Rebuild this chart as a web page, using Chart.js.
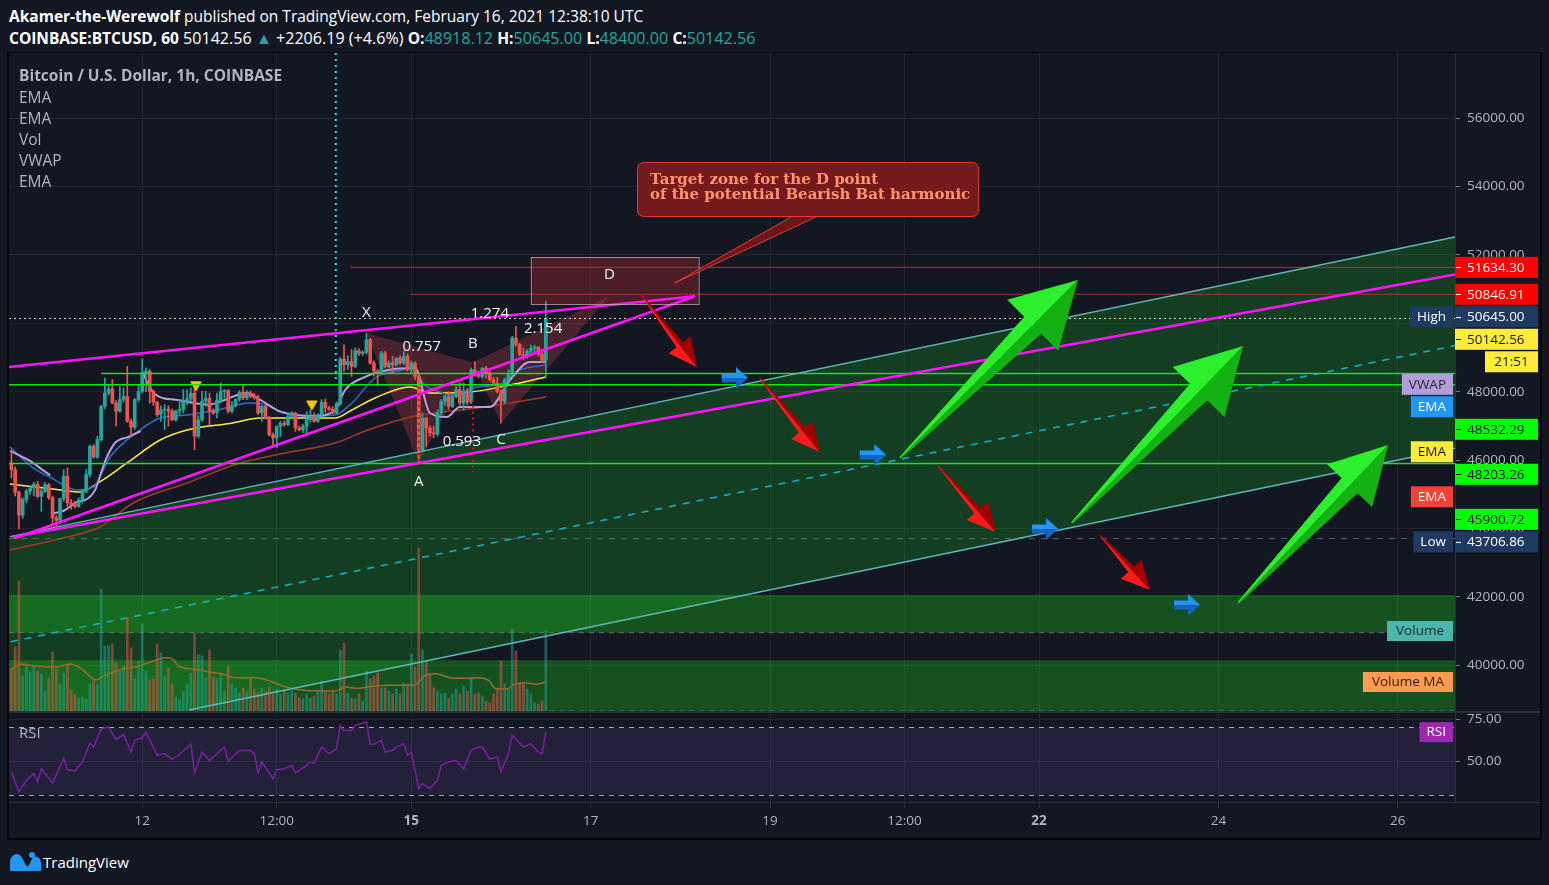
<!DOCTYPE html>
<html>
<head>
<meta charset="utf-8">
<title>BTCUSD 1h</title>
<script src="https://cdn.jsdelivr.net/npm/chart.js@4.4.1/dist/chart.umd.min.js"></script>
<style>
  html, body { margin:0; padding:0; background:#131722; }
  body { width:1549px; height:885px; position:relative; overflow:hidden; font-family:"Open Sans", sans-serif; }
  .hdr { position:absolute; left:9px; color:#ffffff; font-size:15.5px; white-space:nowrap; line-height:20px; }
  .hdr b { font-size:15.5px; }
  .big { font-size:16.1px; }
  .teal { color:#26a69a; }
  canvas { position:absolute; display:block; }
  .lg { position:absolute; left:19px; color:#b2b5be; font-size:15.5px; line-height:21px; white-space:nowrap; z-index:5; }
  .ln { position:absolute; background:#2a2e39; z-index:4; }
  .bd { position:absolute; background:#05070b; z-index:4; }
  #logo { position:absolute; left:8px; top:851px; height:22px; display:flex; align-items:center; color:#ffffff; font-size:15px; }
</style>
</head>
<body>
<div class="hdr" style="top:6px"><b>Akamer-the-Werewolf</b> published on TradingView.com, February 16, 2021 12:38:10 UTC</div>
<div class="hdr" style="top:28px"><b>COINBASE:BTCUSD, 60</b><span class="big"> 50142.56 <span class="teal">▲</span> +2206.19 (+4.6%) <b>O:</b><span class="teal">48918.12</span> <b>H:</b><span class="teal">50645.00</span> <b>L:</b><span class="teal">48400.00</span> <b>C:</b><span class="teal">50142.56</span></span></div>

<canvas id="main" width="1531" height="659" style="left:9px;top:53px"></canvas>
<canvas id="rsi" width="1531" height="126" style="left:9px;top:712px"></canvas>

<div class="lg" style="top:65px;font-weight:bold;font-size:15.5px">Bitcoin / U.S. Dollar, 1h, COINBASE</div>
<div class="lg" style="top:87px">EMA</div>
<div class="lg" style="top:108px">EMA</div>
<div class="lg" style="top:129px">Vol</div>
<div class="lg" style="top:150px">VWAP</div>
<div class="lg" style="top:171px">EMA</div>
<div class="lg" style="top:722px;font-size:15px">RSI</div>

<div class="ln" style="left:9px;top:711px;width:1531px;height:2px"></div>
<div class="ln" style="left:9px;top:802px;width:1531px;height:1px"></div>
<div class="bd" style="left:7px;top:52px;width:2px;height:787px"></div>
<div class="bd" style="left:7px;top:52px;width:1535px;height:1px"></div>
<div class="bd" style="left:1540px;top:52px;width:2px;height:787px"></div>
<div class="bd" style="left:7px;top:838px;width:1535px;height:2px"></div>

<div id="logo">
  <svg width="34" height="22" viewBox="0 0 34 22"><path d="M2 20 L2 12 C2 6 6 3 9 3 C12 3 14 6 15 9 L18 14 C19 16 20 16 21 14 L24 8 C25 6 27 5 29 6 C32 7 33 10 33 13 L33 20 Z" fill="#2196f3"/><circle cx="24" cy="4" r="3" fill="#2196f3"/></svg>
  <span style="margin-left:1px">TradingView</span>
</div>

<script>
// ---------------- DATA ----------------
// x axis: hours relative to 2021-02-15 00:00 UTC
const X_MIN = -107.65, X_MAX = 279.3;
const P_MIN = 38637, P_MAX = 57900;
const timeTicks = [-72, -36, 0, 48, 96, 132, 168, 216, 264];
const timeTickLabels = ['12', '12:00', '15', '17', '19', '12:00', '22', '24', '26'];
const boldTimeTicks = [0, 168];
const priceTicks = [40000, 42000, 44000, 46000, 48000, 50000, 52000, 54000, 56000];
const rsiTicks = [50, 75];
const RSI_MIN = 25.6, RSI_MAX = 79.17;
const VOL_MAX = 6590;

const firstHour = -107;
const opens = [45920,45720,45060,44390,44850,45090,45190,45290,44940,45090,45280,44900,44310,44240,44880,45530,44750,44700,44650,44830,45090,45580,46400,46090,46600,47570,47960,48080,47670,47430,47770,47860,47130,46960,47770,48010,
48550,48600,48010,47690,47330,47470,47490,47430,47180,47440,47480,47720,47790,47960,46700,47180,47720,47810,47430,47380,47750,48010,48040,47430,47590,47770,47980,47820,47960,47870,47820,47380,47570,47230,46740,46650,
46990,47080,47040,47280,47380,46940,46890,46990,47180,47280,47140,47330,47690,47530,47480,47380,47650,48950,48790,48880,48740,49200,49120,49150,49520,48840,48600,48560,49130,48740,48840,48790,48980,48840,49030,
48640,48840,48450,
46300,47230,46940,46800,46760,47380,47720,47860,47570,47860,48060,47670,48010,47700,48640,48500,48450,48690,48550,48350,48250,48010,47720,48350,48500,49570,49380,49080,49030,49180,49270,49300,49100,
48918.12];
const highs = [46300,45800,45100,44900,45150,45250,45350,45380,45150,45350,45320,44950,44380,44880,45720,45770,44850,44800,44900,45150,45720,46450,46450,46700,47600,48400,48200,48350,47750,48150,48110,48740,47200,47800,48200,48960,
48700,48650,48050,47720,47590,47620,47590,47500,47460,47770,48060,48060,48110,48200,47300,48010,48010,47960,47500,47960,48250,48060,48060,47720,47800,48030,48200,48030,48020,47950,47900,47600,47600,47280,46800,47000,
47130,47150,47380,47420,47400,47000,47050,47420,47470,47380,47350,47770,47790,47580,47560,47700,49000,49370,49050,49230,49280,49260,49200,49710,49560,48900,48650,49180,49180,48900,49030,49000,49050,49180,49100,
48900,48870,48500,
47380,47260,47000,46990,47470,47770,47900,48000,47900,48150,48250,48250,48100,48700,48880,48600,48700,48740,48600,48420,48420,48060,48400,48640,49620,49910,49420,49280,49230,49360,49360,49320,49200,
50645];
const lows = [45480,44950,43990,44300,44750,45000,44950,44900,44500,45050,44850,44070,44070,44150,44800,44650,44560,44600,44620,44750,45050,45500,46050,46050,46550,47500,47900,47650,46990,47400,47700,47100,46700,46900,47700,47960,
48000,47670,47600,47280,47130,46890,46990,47150,47130,47330,47380,47620,47720,46310,46650,47130,47570,47040,47330,47230,47690,47810,47380,47380,47550,47720,47770,47770,47820,47780,47330,47130,47200,46700,46360,46360,
46690,46990,47000,47200,46840,46850,46800,46790,47100,47100,47100,47280,47380,47450,47350,47350,47600,48590,48650,48450,48700,49050,49060,49100,48800,48450,48180,48540,48700,48700,48550,48750,48800,48800,48600,
48560,48350,45920,
46250,46400,46700,46650,46700,47330,47600,47480,47530,47820,47600,47470,47620,47650,48450,48400,48400,48400,48300,48200,47960,47080,47650,48300,48450,49320,49050,48930,48980,49130,49150,49030,48850,
48400];
const closes = [45720,45060,44390,44850,45090,45190,45290,44940,45090,45280,44900,44310,44240,44880,45530,44750,44700,44650,44830,45090,45580,46400,46090,46600,47570,47960,48080,47670,47430,47770,47860,47130,46960,47770,48010,48550,
48600,48010,47690,47330,47470,47490,47430,47180,47440,47480,47720,47790,47960,46700,47180,47720,47810,47430,47380,47750,48010,48040,47430,47590,47770,47980,47820,47960,47870,47820,47380,47570,47230,46740,46650,46990,
47080,47040,47280,47380,46940,46890,46990,47180,47280,47140,47330,47690,47530,47480,47380,47650,48950,48790,48880,48740,49200,49120,49150,49520,48840,48600,48560,49130,48740,48840,48790,48980,48840,49030,48640,
48840,48450,46300,
47230,46940,46800,46760,47380,47720,47860,47570,47860,48060,47670,48010,47700,48640,48500,48450,48690,48550,48350,48250,48010,47720,48350,48500,49570,49380,49080,49030,49180,49270,49300,49100,48918.12,
50142.56];
const volumes = [430,650,1310,360,480,400,460,410,380,210,340,600,430,280,390,480,220,180,140,150,130,280,310,280,1230,660,660,680,490,410,460,940,640,330,510,880,
410,320,330,680,590,360,440,280,150,120,210,280,390,790,570,560,340,620,350,330,390,210,460,280,240,190,240,210,330,230,190,240,210,250,180,230,
180,210,190,210,190,140,130,180,140,160,210,310,210,180,210,180,620,690,190,140,130,180,110,410,330,360,390,240,240,210,180,230,180,290,280,
580,450,1640,
620,510,380,240,210,180,190,140,180,230,180,260,210,340,180,190,160,110,90,180,230,510,280,240,830,610,290,280,230,180,90,80,110,
810];

const volMaPts = [[-107.2,427],[-104.3,477],[-100.5,460],[-95.7,450],[-91,477],[-88.1,427],[-84.3,320],[-82.3,360],[-77.6,427],[-73.8,450],[-69,510],[-66.1,543],[-64.2,537],[-62.3,460],[-58,427],[-54.6,403],[-50.8,383],[-47,343],[-41.3,343],[-37.4,303],[-33.6,250],[-29.8,223],[-24.1,210],[-20.2,210],[-17.8,250],[-14.5,237],[-9.7,260],[-4.9,267],[0.8,267],[3.7,367],[6.5,383],[10.4,343],[14.2,337],[18,343],[20.9,310],[22.3,237],[25.6,230],[27.6,277],[30.4,293],[33.3,277],[36,300]];

const emaYellowPts = [[-107.4,45302],[-95.9,45156],[-88.7,45068],[-83.3,45369],[-76.1,45916],[-67.2,46588],[-60,46880],[-47.7,47085],[-40.5,47231],[-35.1,47231],[-20.4,47231],[-15.9,47465],[-9.7,47816],[-0.3,48137],[5,47962],[15.7,47991],[26.4,48196],[36,48430]];
const emaBluePts = [[-107.4,46383],[-101.2,45770],[-96.7,45506],[-89.4,45126],[-85.1,45214],[-80.6,46091],[-72.6,46880],[-67.2,47231],[-60,47319],[-52,47465],[-43.2,47670],[-38.6,47611],[-35.1,47406],[-27.6,47289],[-20.4,47319],[-15.9,47670],[-9.7,48400],[-2.5,48634],[0.5,48690],[3.6,48196],[7.7,47991],[10.3,47903],[17.6,48137],[24.5,48254],[29.1,48634],[36,48780]];
const emaRedPts = [[-107.4,43373],[-92.1,43753],[-83.3,44045],[-74.4,44747],[-60,45331],[-45.8,45916],[-35.1,46179],[-20.4,46500],[-11.6,46880],[1,47290],[17.6,47523],[26.4,47670],[36,47845]];
const vwapPts = [[-107.4,46270],[-104,46090],[-101.2,45920],[-98.5,45700],[-96.6,45560],[-96.3,null],[-96,44440],[-93,44520],[-89.1,44790],[-87.3,44830],[-84.6,45130],[-82,45950],[-79.3,46500],[-75.7,46680],[-72.4,46850],[-72.2,null],[-72,48590],[-69.3,48010],[-66.6,47815],[-63,47766],[-54,47620],[-51,47717],[-44,47962],[-40.5,47766],[-35.1,47425],[-25.8,47290],[-20.4,47465],[-17.7,48049],[-12.4,48430],[-6.2,48634],[1,48690],[5,47377],[9.5,47260],[13,47553],[21,47553],[26.4,48342],[31.7,48868],[36,48868]];

const rsiPts = [[-107,43.5],[-105,31.6],[-103,38.5],[-101,42.5],[-100,37.5],[-99,45.4],[-96,36.9],[-93,51.4],[-92,44.9],[-90,44.1],[-88,49.4],[-86,60.7],[-85,58.3],[-83,69.2],[-81,70.2],[-79,62.7],[-77,65.8],[-75,55.3],[-74,62.3],[-72,63.9],[-71,67.2],[-68,53.4],[-66,54.4],[-64,50.8],[-62,54],[-59,59.9],[-58,42.9],[-56,55.3],[-54,50.4],[-50,58.3],[-49,50],[-46,56.3],[-43,56.3],[-42,54.4],[-41,42.9],[-40,49.4],[-37,39.5],[-36,44.9],[-34,45.4],[-32,47.4],[-31,42.9],[-28,47.4],[-27,49.4],[-26,48.8],[-24,58.3],[-22,54.4],[-20,57.3],[-19,71.2],[-18,68.2],[-16,68.2],[-15,71.2],[-12,73.2],[-11,59.9],[-10,59.9],[-8,62.3],[-7,55.3],[-5,56.3],[-4,58.3],[-2,60.3],[-1,53.4],[0,55],[2,33.6],[3,36.5],[5,33.6],[7,38.5],[8,47.4],[10,49.4],[12,50.4],[14,45.4],[16,56.3],[18,58.3],[19,58.3],[21,51],[23,52.4],[24,43.5],[26,54.4],[27,65.2],[30,58.3],[32,60.3],[34,55.3],[35,54.4],[36,67.2]];
const rsiLevels = [70, 30];

const signalMarkers = [[-57.6, 48200], [-26.6, 47640]];

// drawings (hour, price)
const channelUpper = [[-107.4, 43762], [279.3, 52522]];
const channelMid = [[-107.2, 40692], [279.3, 49347]];
const channelLower = [[-59.5, 38696], [279.3, 46345]];
const wedgeUpper = [[-107.7, 48722], [75.9, 50790]];
const wedgeLower = [[-106.1, 43715], [75.9, 50790]];
const trendLong = [[-106.6, 43753], [279.3, 51426]];
const supportZones = [[42060, 40955], [40150, 38500]];
const greenLevels = [48532.29, 48203.26, 45900.72];
const greenLevelStarts = [-83, X_MIN, X_MIN];
const targetLevel = 51634.30, targetLevelStart = -16.4;
const secondLevel = 50846.91, secondLevelStart = -0.3;
const highValue = 50645.00, lowValue = 43706.86;
const lastClose = 50142.56, countdown = '21:51';
const sessionLine = [-20.2, 48290];
const patternNames = ['X', 'A', 'B', 'C', 'D'];
const patternPts = [[-12, 49710], [2, 45920], [16.5, 48850], [24, 47080], [53, 50800]];
const patternRatios = ['0.757', '1.274', '0.593', '2.154'];
const patternDots = [[2, 48140, 45960], [16.5, 47770, 45650]];
const dZone = [[32, 51937], [76.9, 50563]];
const calloutBox = [[60.4, 54714], [151.7, 53135]];
const calloutAnchor = [70.5, 51177];
const calloutTail = [102.6, 109.4];
const calloutLines = ['Target zone for the D point', 'of the potential Bearish Bat harmonic'];
const redArrows = [[[61.2, 50885], [76.4, 48722]], [[93.3, 48400], [109.3, 46237]], [[140.9, 45857], [156.4, 43899]], [[184.3, 43811], [197.7, 42203]]];
const blueArrows = [[[83.1, 48400], [90.1, 48400]], [[120, 46150], [127.1, 46150]], [[166.1, 43987], [173.1, 43987]], [[204.1, 41765], [211.1, 41765]]];
const greenArrows = [[[130.8, 46062], [178.4, 51265]], [[176.8, 44162], [222.6, 49336]], [[221.3, 41823], [261.4, 46442]]];

// ---------------- BUILD ----------------
const hours = opens.map((_, i) => firstHour + i);
const UP = '#26a69a', DOWN = '#ef5350';
const candleColors = opens.map((o, i) => closes[i] >= o ? UP : DOWN);
const volColors = opens.map((o, i) => closes[i] >= o ? 'rgba(38,166,154,0.5)' : 'rgba(239,83,80,0.5)');
const pts = arr => arr.map(([x, y]) => ({x, y}));
const lineAt = (seg, h) => seg[0][1] + (seg[1][1] - seg[0][1]) * (h - seg[0][0]) / (seg[1][0] - seg[0][0]);
const FONT = '"Open Sans", sans-serif';
Chart.defaults.font.family = FONT;

function noPad(s) { s.paddingTop = 0; s.paddingBottom = 0; s.paddingLeft = 0; s.paddingRight = 0; }
function roundRect(ctx, x, y, w, h, r) {
  ctx.beginPath();
  ctx.moveTo(x + r, y); ctx.lineTo(x + w - r, y); ctx.quadraticCurveTo(x + w, y, x + w, y + r);
  ctx.lineTo(x + w, y + h - r); ctx.quadraticCurveTo(x + w, y + h, x + w - r, y + h);
  ctx.lineTo(x + r, y + h); ctx.quadraticCurveTo(x, y + h, x, y + h - r);
  ctx.lineTo(x, y + r); ctx.quadraticCurveTo(x, y, x + r, y); ctx.closePath();
}
function seg(ctx, a, b, color, width, dash) {
  ctx.beginPath(); ctx.setLineDash(dash || []); ctx.strokeStyle = color; ctx.lineWidth = width;
  ctx.moveTo(a[0], a[1]); ctx.lineTo(b[0], b[1]); ctx.stroke(); ctx.setLineDash([]);
}
function arrow(ctx, x0, y0, x1, y1, s, colA, colB) {
  const dx = x1 - x0, dy = y1 - y0, L = Math.hypot(dx, dy), ux = dx / L, uy = dy / L, nx = -uy, ny = ux;
  const bx = x1 - ux * s.hl, by = y1 - uy * s.hl;
  [[1, colA], [-1, colB]].forEach(([sg, col]) => {
    ctx.beginPath();
    ctx.moveTo(x0 + sg * nx * s.sw0, y0 + sg * ny * s.sw0);
    ctx.lineTo(bx + sg * nx * s.sw1, by + sg * ny * s.sw1);
    ctx.lineTo(bx + sg * nx * s.hw, by + sg * ny * s.hw);
    ctx.lineTo(x1, y1);
    ctx.lineTo(x0, y0);
    ctx.closePath(); ctx.fillStyle = col; ctx.fill();
  });
}
function labelBox(ctx, x, y, w, h, bg, fg, txt, align) {
  ctx.fillStyle = bg; ctx.fillRect(x, y, w, h);
  ctx.fillStyle = fg; ctx.textBaseline = 'middle';
  if (align === 'center') { ctx.textAlign = 'center'; ctx.fillText(txt, x + w / 2, y + h / 2 + 0.5); }
  else { ctx.textAlign = 'left'; ctx.fillText(txt, x + 12, y + h / 2 + 0.5); }
}

const mainPlugin = {
  id: 'mainDraw',
  beforeDatasetsDraw(chart) {
    const {ctx, chartArea: a} = chart;
    const X = h => chart.scales.x.getPixelForValue(h);
    const Y = p => chart.scales.y.getPixelForValue(p);
    ctx.save();
    ctx.beginPath(); ctx.rect(a.left, a.top, a.right - a.left, a.bottom - a.top); ctx.clip();
    ctx.fillStyle = 'rgba(20,180,30,0.25)';
    ctx.beginPath();
    ctx.moveTo(X(X_MIN), Y(lineAt(channelUpper, X_MIN)));
    ctx.lineTo(X(X_MAX), Y(lineAt(channelUpper, X_MAX)));
    ctx.lineTo(X(X_MAX), Y(lineAt(channelLower, X_MAX)));
    ctx.lineTo(X(X_MIN), Y(lineAt(channelLower, X_MIN)));
    ctx.closePath(); ctx.fill();
    supportZones.forEach(([top, bot]) => {
      const y0 = Y(top), y1 = Y(bot);
      ctx.fillStyle = 'rgba(30,200,30,0.33)';
      ctx.fillRect(a.left, y0, a.right - a.left, y1 - y0);
      seg(ctx, [a.left, Math.min(y1, a.bottom - 1)], [a.right, Math.min(y1, a.bottom - 1)], 'rgba(120,135,125,0.7)', 1, [5, 5]);
    });
    const dx0 = X(dZone[0][0]), dy0 = Y(dZone[0][1]), dx1 = X(dZone[1][0]), dy1 = Y(dZone[1][1]);
    ctx.fillStyle = 'rgba(160,40,45,0.4)';
    ctx.fillRect(dx0, dy0, dx1 - dx0, dy1 - dy0);
    const pp = patternPts.map(([h, p]) => [X(h), Y(p)]);
    ctx.fillStyle = 'rgba(242,70,80,0.24)';
    [[0, 1, 2], [2, 3, 4]].forEach(tri => {
      ctx.beginPath(); ctx.moveTo(pp[tri[0]][0], pp[tri[0]][1]);
      ctx.lineTo(pp[tri[1]][0], pp[tri[1]][1]); ctx.lineTo(pp[tri[2]][0], pp[tri[2]][1]);
      ctx.closePath(); ctx.fill();
    });
    ctx.restore();
  },
  afterDatasetsDraw(chart) {
    const {ctx, chartArea: a} = chart;
    const X = h => chart.scales.x.getPixelForValue(h);
    const Y = p => chart.scales.y.getPixelForValue(p);
    const P = ([h, p]) => [X(h), Y(p)];
    ctx.save();
    ctx.beginPath(); ctx.rect(a.left, a.top, a.right - a.left, a.bottom - a.top); ctx.clip();
    seg(ctx, [a.left, Y(lowValue)], [a.right, Y(lowValue)], 'rgba(120,123,134,0.7)', 1, [6, 6]);
    seg(ctx, [a.left, Math.round(Y(lastClose)) + 0.5], [a.right, Math.round(Y(lastClose)) + 0.5], 'rgba(240,235,170,0.9)', 1, [2, 3]);
    seg(ctx, [X(secondLevelStart), Y(secondLevel)], [a.right, Y(secondLevel)], 'rgba(200,50,50,0.85)', 1);
    seg(ctx, [X(targetLevelStart), Y(targetLevel)], [a.right, Y(targetLevel)], '#ff1010', 1);
    greenLevels.forEach((v, i) => seg(ctx, [X(greenLevelStarts[i]), Y(v)], [a.right, Y(v)], '#14e614', 1.3));
    seg(ctx, P(channelUpper[0]), P(channelUpper[1]), '#5fb8b8', 1.4);
    seg(ctx, P(channelLower[0]), P(channelLower[1]), '#5fb8b8', 1.4);
    seg(ctx, P(channelMid[0]), P(channelMid[1]), '#12b4cc', 1.5, [7, 7]);
    [wedgeUpper, wedgeLower, trendLong].forEach(l => seg(ctx, P(l[0]), P(l[1]), '#ff14ff', 2.6));
    seg(ctx, [X(sessionLine[0]), a.top], [X(sessionLine[0]), Y(sessionLine[1])], '#22e0f0', 2, [2, 4]);
    patternDots.forEach(([h, p0, p1]) => seg(ctx, [X(h), Y(p0)], [X(h), Y(p1)], '#e01010', 2, [2, 4]));
    const dx0 = X(dZone[0][0]), dy0 = Y(dZone[0][1]), dx1 = X(dZone[1][0]), dy1 = Y(dZone[1][1]);
    ctx.strokeStyle = 'rgba(205,170,180,0.75)'; ctx.lineWidth = 1; ctx.strokeRect(dx0 + 0.5, dy0 + 0.5, dx1 - dx0, dy1 - dy0);
    const pp = patternPts.map(P);
    ctx.font = '15px ' + FONT; ctx.fillStyle = '#f0f3fa'; ctx.textAlign = 'center'; ctx.textBaseline = 'middle';
    const offs = [-20, 19, -19, 17, -21];
    pp.forEach((q, i) => ctx.fillText(patternNames[i], q[0], q[1] + offs[i]));
    const pairs = [[0, 2], [0, 4], [1, 3], [2, 4]];
    pairs.forEach(([i, j], k) => ctx.fillText(patternRatios[k], (pp[i][0] + pp[j][0]) / 2 + 2, (pp[i][1] + pp[j][1]) / 2 - 1));
    const c0 = P(calloutBox[0]), c1 = P(calloutBox[1]), an = P(calloutAnchor);
    ctx.beginPath();
    ctx.moveTo(X(calloutTail[0]), c1[1] - 1); ctx.lineTo(an[0], an[1]); ctx.lineTo(X(calloutTail[1]), c1[1] - 1); ctx.closePath();
    ctx.fillStyle = 'rgba(120,22,24,0.9)'; ctx.fill();
    ctx.strokeStyle = '#e53935'; ctx.lineWidth = 1; ctx.stroke();
    roundRect(ctx, c0[0] + 0.5, c0[1] + 0.5, c1[0] - c0[0], c1[1] - c0[1], 7);
    ctx.fillStyle = '#741a1c'; ctx.fill(); ctx.strokeStyle = '#e53935'; ctx.stroke();
    ctx.font = 'bold 15px "DejaVu Serif", serif'; ctx.fillStyle = '#ff9470'; ctx.textAlign = 'left';
    ctx.fillText(calloutLines[0], c0[0] + 13, c0[1] + 18);
    ctx.fillText(calloutLines[1], c0[0] + 13, c0[1] + 33);
    redArrows.forEach(([t, h]) => { const a0 = P(t), a1 = P(h); arrow(ctx, a0[0], a0[1], a1[0], a1[1], {hl: 28, hw: 14, sw0: 0.6, sw1: 4}, '#ff1a1a', '#a00000'); });
    blueArrows.forEach(([t, h]) => { const a0 = P(t), a1 = P(h); arrow(ctx, a0[0], a0[1], a1[0], a1[1], {hl: 12, hw: 11, sw0: 4.5, sw1: 4.5}, '#1565c0', '#2196f3'); });
    greenArrows.forEach(([t, h], i) => { const a0 = P(t), a1 = P(h); const s = i === 2 ? {hl: 56, hw: 31, sw0: 1, sw1: 11} : {hl: 64, hw: 36, sw0: 1, sw1: 12}; arrow(ctx, a0[0], a0[1], a1[0], a1[1], s, '#13b213', '#2cf02c'); });
    ctx.restore();
  },
  afterDraw(chart) {
    const {ctx, chartArea: a} = chart;
    const yS = chart.scales.y, yV = chart.scales.yv;
    const L = a.right;
    ctx.save();
    ctx.font = '13.5px ' + FONT;
    const ROW = 22.5, BH = 21;
    const last = arr => arr[arr.length - 1][1];
    const items = [
      {v: targetLevel, txt: targetLevel.toFixed(2), bg: '#ff0000', fg: '#ffffff'},
      {v: secondLevel, txt: secondLevel.toFixed(2), bg: '#ff0000', fg: '#ffffff'},
      {v: highValue, txt: highValue.toFixed(2), bg: '#1f3a60', fg: '#ffffff', tag: 'High', tagBg: '#1f3a60', tagFg: '#ffffff'},
      {v: lastClose, txt: lastClose.toFixed(2), bg: '#ffeb3b', fg: '#131722', sub: countdown},
      {v: last(vwapPts), tag: 'VWAP', tagBg: '#b39ddb', tagFg: '#2a2a35'},
      {v: last(emaBluePts), tag: 'EMA', tagBg: '#2196f3', tagFg: '#ffffff'},
      {v: greenLevels[0], txt: greenLevels[0].toFixed(2), bg: '#00ff00', fg: '#131722'},
      {v: last(emaYellowPts), tag: 'EMA', tagBg: '#ffeb3b', tagFg: '#131722'},
      {v: greenLevels[1], txt: greenLevels[1].toFixed(2), bg: '#00ff00', fg: '#131722'},
      {v: last(emaRedPts), tag: 'EMA', tagBg: '#f44336', tagFg: '#ffffff'},
      {v: greenLevels[2], txt: greenLevels[2].toFixed(2), bg: '#00ff00', fg: '#131722'},
      {v: lowValue, txt: lowValue.toFixed(2), bg: '#1f3a60', fg: '#ffffff', tag: 'Low', tagBg: '#1f3a60', tagFg: '#ffffff'}
    ];
    let prev = -1e9;
    items.forEach(it => {
      const c = Math.max(yS.getPixelForValue(it.v), prev + ROW);
      if (it.txt) {
        labelBox(ctx, L, c - BH / 2, 83, BH, it.bg, it.fg, it.txt);
        ctx.strokeStyle = it.fg; ctx.lineWidth = 1; ctx.beginPath(); ctx.moveTo(L + 1, Math.round(c) + 0.5); ctx.lineTo(L + 6, Math.round(c) + 0.5); ctx.stroke();
      }
      if (it.tag) {
        const w = ctx.measureText(it.tag).width + 14;
        labelBox(ctx, L - 2 - w, c - BH / 2, w, BH, it.tagBg, it.tagFg, it.tag, 'center');
      }
      prev = c;
      if (it.sub) {
        const c2 = c + ROW;
        labelBox(ctx, L + 30, c2 - BH / 2, 53, BH, it.bg, it.fg, it.sub, 'center');
        prev = c2;
      }
    });
    const vy = yV.getPixelForValue(volumes[volumes.length - 1]);
    let w = ctx.measureText('Volume').width + 18;
    labelBox(ctx, L - 2 - w, vy - 10, w, 20, '#4db6ac', '#1d2a2a', 'Volume', 'center');
    const my = yV.getPixelForValue(last(volMaPts));
    w = ctx.measureText('Volume MA').width + 18;
    labelBox(ctx, L - 2 - w, my - 10, w, 20, '#ff9a52', '#2a1d10', 'Volume MA', 'center');
    ctx.restore();
  }
};

const gridColor = 'rgba(42,46,57,0.6)';

new Chart(document.getElementById('main'), {
  type: 'bar',
  data: {
    datasets: [
      {type: 'bar', yAxisID: 'yv', data: hours.map((h, i) => ({x: h, y: volumes[i]})), backgroundColor: volColors, barThickness: 2, grouped: false, order: 10},
      {type: 'line', yAxisID: 'yv', data: pts(volMaPts), borderColor: '#9b6a2c', borderWidth: 1.5, pointRadius: 0, cubicInterpolationMode: 'monotone', order: 9},
      {type: 'line', yAxisID: 'y', data: pts(emaRedPts), borderColor: '#a23a28', borderWidth: 1.5, pointRadius: 0, cubicInterpolationMode: 'monotone', order: 8},
      {type: 'line', yAxisID: 'y', data: pts(emaYellowPts), borderColor: '#ffeb3b', borderWidth: 1.5, pointRadius: 0, cubicInterpolationMode: 'monotone', order: 7},
      {type: 'line', yAxisID: 'y', data: pts(emaBluePts), borderColor: '#2f6fc8', borderWidth: 1.5, pointRadius: 0, cubicInterpolationMode: 'monotone', order: 6},
      {type: 'line', yAxisID: 'y', data: pts(vwapPts), borderColor: '#b39ddb', borderWidth: 2, pointRadius: 0, spanGaps: false, cubicInterpolationMode: 'monotone', order: 5},
      {type: 'bar', yAxisID: 'y', data: hours.map((h, i) => ({x: h, y: [lows[i], highs[i]]})), backgroundColor: candleColors, barThickness: 1, grouped: false, order: 2},
      {type: 'bar', yAxisID: 'y', data: hours.map((h, i) => ({x: h, y: [opens[i], closes[i]]})), backgroundColor: candleColors, barThickness: 3, grouped: false, order: 1},
      {type: 'line', yAxisID: 'y', data: pts(signalMarkers), showLine: false, pointStyle: 'triangle', rotation: 180, pointRadius: 6, pointBackgroundColor: '#f5c400', pointBorderColor: '#f5c400', order: 0}
    ]
  },
  options: {
    responsive: false, animation: false, devicePixelRatio: 1,
    layout: {padding: 0, autoPadding: false},
    plugins: {legend: {display: false}, tooltip: {enabled: false}},
    scales: {
      x: {
        type: 'linear', min: X_MIN, max: X_MAX, offset: false,
        grid: {color: gridColor, drawTicks: false, offset: false},
        border: {display: false},
        ticks: {display: false},
        afterBuildTicks: s => { s.ticks = timeTicks.map(v => ({value: v})); },
        afterFit: s => { s.height = 0; noPad(s); }
      },
      y: {
        type: 'linear', position: 'right', min: P_MIN, max: P_MAX,
        grid: {color: gridColor, tickLength: 5, tickColor: '#787b86'},
        border: {display: true, color: '#2a2e39'},
        ticks: {color: '#b2b5be', font: {family: FONT, size: 13.5}, padding: 7, callback: v => Number(v).toFixed(2)},
        afterBuildTicks: s => { s.ticks = priceTicks.map(v => ({value: v})); },
        afterFit: s => { s.width = 85; noPad(s); }
      },
      yv: {type: 'linear', display: false, min: 0, max: VOL_MAX, afterFit: s => { noPad(s); }}
    }
  },
  plugins: [mainPlugin]
});

const rsiPlugin = {
  id: 'rsiDraw',
  beforeDatasetsDraw(chart) {
    const {ctx, chartArea: a} = chart; const Y = v => chart.scales.y.getPixelForValue(v);
    ctx.save();
    ctx.fillStyle = 'rgba(126,87,194,0.15)';
    ctx.fillRect(a.left, Y(rsiLevels[0]), a.right - a.left, Y(rsiLevels[1]) - Y(rsiLevels[0]));
    rsiLevels.forEach(l => seg(ctx, [a.left, Math.round(Y(l)) + 0.5], [a.right, Math.round(Y(l)) + 0.5], 'rgba(200,202,210,0.8)', 1, [5, 5]));
    ctx.restore();
  },
  afterDraw(chart) {
    const {ctx, chartArea: a} = chart;
    ctx.save(); ctx.font = '13.5px ' + FONT;
    const y = chart.scales.y.getPixelForValue(rsiPts[rsiPts.length - 1][1]);
    const w = ctx.measureText('RSI').width + 14;
    labelBox(ctx, a.right - 2 - w, y - 10, w, 20, '#9c27b0', '#ffffff', 'RSI', 'center');
    ctx.restore();
  }
};

new Chart(document.getElementById('rsi'), {
  type: 'line',
  data: {datasets: [{data: pts(rsiPts), borderColor: '#7b1fa2', borderWidth: 1.5, pointRadius: 0, tension: 0}]},
  options: {
    responsive: false, animation: false, devicePixelRatio: 1,
    layout: {padding: 0, autoPadding: false},
    plugins: {legend: {display: false}, tooltip: {enabled: false}},
    scales: {
      x: {
        type: 'linear', min: X_MIN, max: X_MAX, offset: false,
        grid: {color: gridColor, tickLength: 6, tickColor: '#2a2e39'},
        border: {display: false},
        ticks: {
          color: '#b2b5be', padding: 5, maxRotation: 0, autoSkip: false,
          font: c => ({family: FONT, size: 13.5, weight: (c.tick && boldTimeTicks.includes(c.tick.value)) ? 'bold' : 'normal'}),
          callback: v => timeTickLabels[timeTicks.indexOf(v)]
        },
        afterBuildTicks: s => { s.ticks = timeTicks.map(v => ({value: v})); },
        afterFit: s => { s.height = 36; noPad(s); }
      },
      y: {
        type: 'linear', position: 'right', min: RSI_MIN, max: RSI_MAX,
        grid: {color: gridColor, tickLength: 5, tickColor: '#787b86'},
        border: {display: true, color: '#2a2e39'},
        ticks: {color: '#b2b5be', font: {family: FONT, size: 13.5}, padding: 7, callback: v => Number(v).toFixed(2)},
        afterBuildTicks: s => { s.ticks = rsiTicks.map(v => ({value: v})); },
        afterFit: s => { s.width = 85; noPad(s); }
      }
    }
  },
  plugins: [rsiPlugin]
});
</script>
</body>
</html>
